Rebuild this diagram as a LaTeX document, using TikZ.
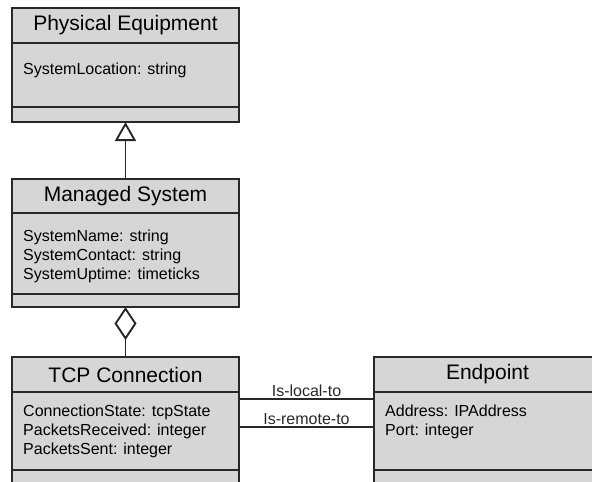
\documentclass[tikz,border=0pt]{standalone}
\usepackage{fontspec}
\setmainfont{Liberation Sans}
\usetikzlibrary{positioning,arrows.meta}
\definecolor{boxgray}{RGB}{214,214,214}
\definecolor{linegray}{RGB}{40,40,40}
\tikzset{
  classhead/.style={draw=linegray, fill=boxgray, line width=1.3pt, outer sep=0pt, inner sep=0pt,
    minimum width=227pt, minimum height=35pt, font=\fontsize{21}{24}\selectfont},
  classpart/.style={draw=linegray, fill=boxgray, line width=1.3pt, outer sep=0pt, inner sep=0pt,
    minimum width=227pt},
  attrs/.style={anchor=north west, align=left, inner sep=0pt, font=\fontsize{16}{19}\selectfont},
  assoc/.style={above, inner sep=2pt, font=\fontsize{16}{19}\selectfont}
}
\begin{document}
\begin{tikzpicture}[x=1pt,y=1pt]
\clip (0,0) rectangle (592,-482);
% Physical Equipment:
\node[classhead] (pe) at (125.5,-25.5) {Physical Equipment};
\node[classpart, minimum height=64pt, below=0pt of pe] (pe-attr) {};
\node[classpart, minimum height=15pt, below=0pt of pe-attr] (pe-ops) {};
\node[attrs] (pe-txt) at ([xshift=11pt,yshift=-20pt]pe-attr.north west) {SystemLocation: string};
% Managed System:
\node[classhead, minimum height=34pt] (ms) at (125.5,-196) {Managed System};
\node[classpart, minimum height=81pt, below=0pt of ms] (ms-attr) {};
\node[classpart, minimum height=13pt, below=0pt of ms-attr] (ms-ops) {};
\node[attrs] (ms-txt) at ([xshift=11pt,yshift=-17pt]ms-attr.north west)
  {SystemName: string\\SystemContact: string\\SystemUptime: timeticks};
% TCP Connection:
\node[classhead] (tcp) at (125.5,-374.5) {TCP Connection};
\node[classpart, minimum height=78pt, below=0pt of tcp] (tcp-attr) {};
\node[classpart, minimum height=25pt, below=0pt of tcp-attr] (tcp-ops) {};
\node[attrs] (tcp-txt) at ([xshift=11pt,yshift=-13pt]tcp-attr.north west)
  {ConnectionState: tcpState\\PacketsReceived: integer\\PacketsSent: integer};
% Endpoint:
\node[classhead] (ep) at (487.5,-374.5) {Endpoint};
\node[classpart, minimum height=78pt, below=0pt of ep] (ep-attr) {};
\node[classpart, minimum height=25pt, below=0pt of ep-attr] (ep-ops) {};
\node[attrs] (ep-txt) at ([xshift=11pt,yshift=-13pt]ep-attr.north west)
  {Address: IPAddress\\Port: integer};
% links:
\draw[linegray, line width=1.1pt, -{Triangle[open,length=19pt,width=21pt,line width=1.9pt]}] (ms.north) -- (pe-ops.south);
\draw[linegray, line width=1.1pt, {Diamond[open,length=33pt,width=22pt,line width=1.9pt]}-] (ms-ops.south) -- (tcp.north);
\draw[linegray, line width=1.1pt] ([yshift=-7pt]tcp-attr.north east) -- node[assoc] {Is-local-to} ([yshift=-7pt]ep-attr.north west);
\draw[linegray, line width=1.1pt] ([yshift=-35pt]tcp-attr.north east) -- node[assoc] {Is-remote-to} ([yshift=-35pt]ep-attr.north west);
\end{tikzpicture}
\end{document}
